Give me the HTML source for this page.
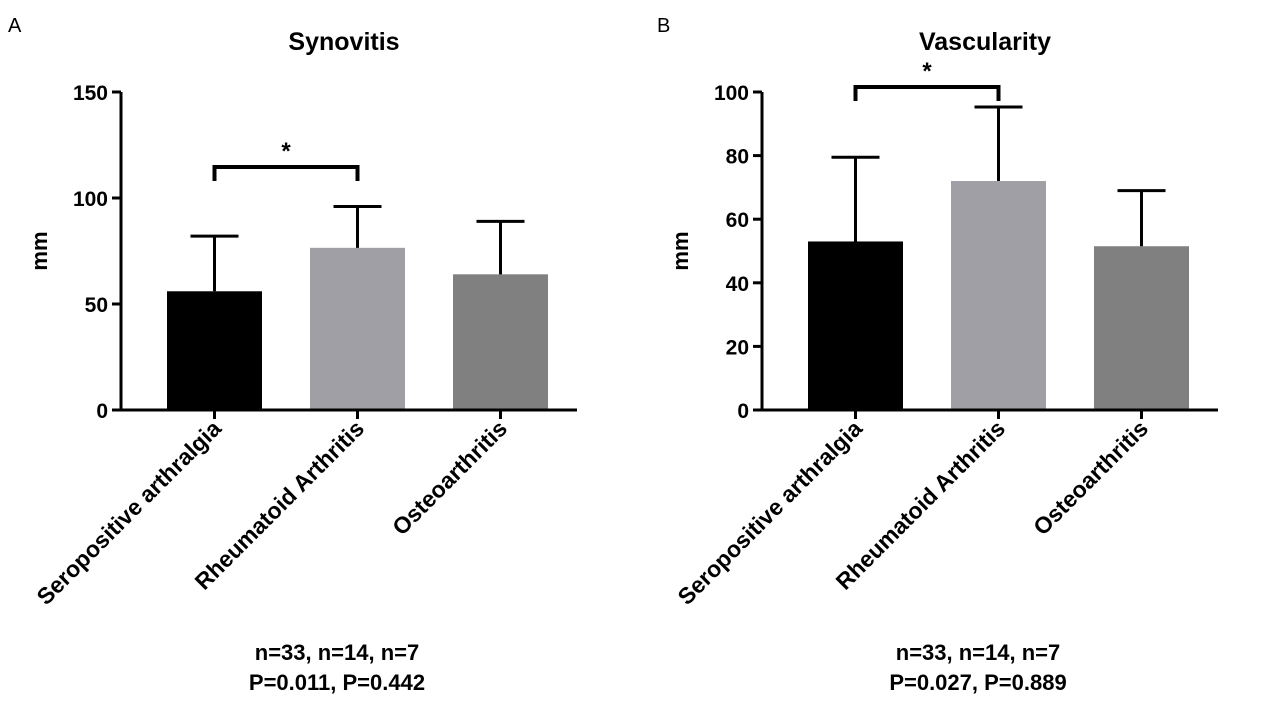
<!DOCTYPE html>
<html><head><meta charset="utf-8"><style>
body{margin:0;background:#fff;}
svg{display:block;font-family:"Liberation Sans",Arial,sans-serif;}
</style></head><body>
<svg id="chart" width="1280" height="720" viewBox="0 0 1280 720"></svg>
<script>
const categories = ["Seropositive arthralgia","Rheumatoid Arthritis","Osteoarthritis"];
const colors = ["#000000","#a09fa5","#808080"];
const synMeans = [56, 76.5, 64];
const synErr = [82, 96, 89];
const synTicks = [0, 50, 100, 150];
const vasMeans = [53, 72, 51.5];
const vasErr = [79.5, 95.3, 69];
const vasTicks = [0, 20, 40, 60, 80, 100];
const panels = [
  {label:"A", title:"Synovitis", x0:121, x1:577, max:150, means:synMeans, errs:synErr, ticks:synTicks, barX:[167,310,453], sig:[0,1], sigY:167, sigDrop:181, foot:["n=33, n=14, n=7","P=0.011, P=0.442"], labX:8, name:"synovitis"},
  {label:"B", title:"Vascularity", x0:762, x1:1218, max:100, means:vasMeans, errs:vasErr, ticks:vasTicks, barX:[808,951,1094], sig:[0,1], sigY:87, sigDrop:101, foot:["n=33, n=14, n=7","P=0.027, P=0.889"], labX:657, name:"vascularity"}
];
const svg = document.getElementById('chart');
const NS = "http://www.w3.org/2000/svg";
function mk(tag, attrs, parent, text){
  const e = document.createElementNS(NS, tag);
  for (const k in attrs) e.setAttribute(k, attrs[k]);
  if (text !== undefined) e.textContent = text;
  parent.appendChild(e); return e;
}
const yTop = 92, yBot = 410, bw = 95;
panels.forEach(p => {
  const g = mk('g', {}, svg);
  
  
  const y = v => yBot - v / p.max * (yBot - yTop);
  const pl = mk('text', {x:p.labX, y:32, 'font-size':20}, g, p.label);
  
  
  const cx = (p.x0 + p.x1) / 2;
  const t = mk('text', {x:cx-5, y:50, 'font-size':25, 'font-weight':'bold', 'text-anchor':'middle'}, g, p.title);
  
  
  const yt = mk('text', {x:0, y:0, 'font-size':22, 'font-weight':'bold', 'text-anchor':'middle', transform:`translate(${p.x0-74},251) rotate(-90)`}, g, 'mm');
  
  
  p.means.forEach((m, i) => {
    const bx = p.barX[i], c = bx + bw/2;
    const r = mk('rect', {x:bx, y:y(m), width:bw, height:yBot-y(m), fill:colors[i]}, g);
    
    
    const eb = mk('path', {d:`M${c},${y(m)}V${y(p.errs[i])}M${c-24},${y(p.errs[i])}H${c+24}`, stroke:'#000', 'stroke-width':3, fill:'none'}, g);
    
    
    mk('line', {x1:c, x2:c, y1:yBot, y2:yBot+9, stroke:'#000', 'stroke-width':3}, g);
    const lx = c + 8, ly = yBot + 20;
    const cl = mk('text', {x:0, y:0, 'font-size':23, 'font-weight':'bold', 'text-anchor':'end', transform:`translate(${lx},${ly}) rotate(-45)`}, g, categories[i]);
    
    
  });
  const ax = mk('path', {d:`M${p.x0},${yTop}V${yBot}H${p.x1}`, stroke:'#000', 'stroke-width':3, fill:'none'}, g);
  
  
  p.ticks.forEach(v => {
    mk('line', {x1:p.x0-9, x2:p.x0, y1:y(v), y2:y(v), stroke:'#000', 'stroke-width':3}, g);
    const tl = mk('text', {x:p.x0-13, y:y(v)+8, 'font-size':21, 'font-weight':'bold', 'text-anchor':'end'}, g, String(v));
    
    
  });
  const a = p.barX[p.sig[0]] + bw/2, b = p.barX[p.sig[1]] + bw/2;
  const sb = mk('path', {d:`M${a},${p.sigDrop}V${p.sigY}H${b}V${p.sigDrop}`, stroke:'#000', 'stroke-width':4, fill:'none'}, g);
  
  
  const st = mk('text', {x:(a+b)/2, y:p.sigY-8, 'font-size':24, 'font-weight':'bold', 'text-anchor':'middle'}, g, '*');
  
  
  p.foot.forEach((s, i) => {
    const f = mk('text', {x:cx-12, y:660+i*30, 'font-size':22, 'font-weight':'bold', 'text-anchor':'middle'}, g, s);
    
    
  });
});
</script>
</body></html>
